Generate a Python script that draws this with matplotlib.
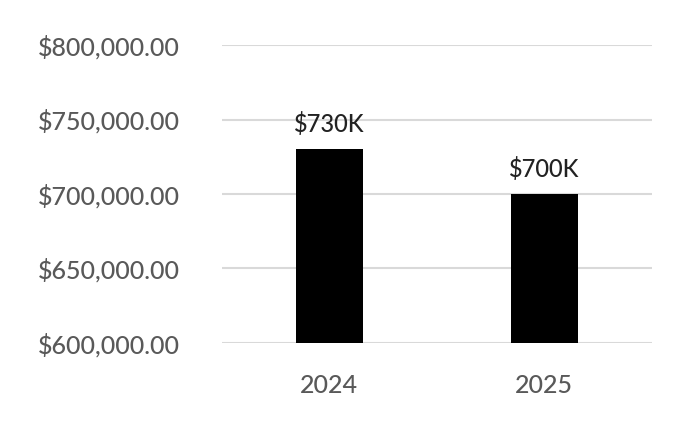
import matplotlib
matplotlib.use("Agg")
import matplotlib.pyplot as plt

categories = ["2024", "2025"]
values = [730000, 700000]
labels = ["$730K", "$700K"]
yticks = [600000, 650000, 700000, 750000, 800000]

plt.rcParams['font.family'] = ['Lato', 'DejaVu Sans']
fig = plt.figure(figsize=(7, 4.25), dpi=100)
ax = fig.add_axes([0.317, 0.193, 0.614, 0.701])
x = range(len(categories))
ax.bar(x, values, width=0.31, color="black", zorder=3)
for xi, v, l in zip(x, values, labels):
    ax.text(xi, v + 9000, l, ha="center", va="bottom", fontsize=17,
            color="#222222", fontweight="medium")
ax.set_xlim(-0.5, 1.5)
ax.set_ylim(600000, 800000)
ax.set_yticks(yticks)
ax.set_yticklabels([f"${t:,.2f}" for t in yticks])
ax.set_xticks(list(x))
ax.set_xticklabels(categories)
ax.tick_params(axis="both", length=0, labelsize=18, colors="#595959")
ax.tick_params(axis="x", pad=22)
ax.tick_params(axis="y", pad=30)
for t in ax.get_xticklabels() + ax.get_yticklabels():
    t.set_fontweight("medium")
ax.grid(axis="y", color="#d9d9d9", linewidth=1.5, zorder=0)
for s in ax.spines.values():
    s.set_visible(False)
fig.savefig("out.png", dpi=100)
